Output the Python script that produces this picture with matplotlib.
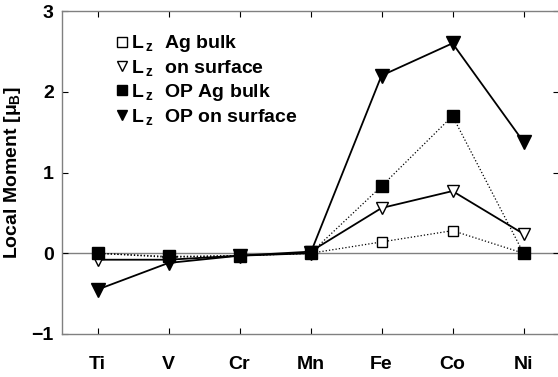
import matplotlib
matplotlib.use("Agg")
import matplotlib.pyplot as plt
from matplotlib.lines import Line2D

plt.rcParams['font.family'] = ['Liberation Sans', 'DejaVu Sans']
plt.rcParams['font.weight'] = 'bold'
plt.rcParams['mathtext.fontset'] = 'custom'
plt.rcParams['mathtext.rm'] = 'Liberation Sans:bold'
plt.rcParams['mathtext.it'] = 'Liberation Sans:bold'
plt.rcParams['mathtext.bf'] = 'Liberation Sans:bold'

elements = ["Ti", "V", "Cr", "Mn", "Fe", "Co", "Ni"]
lz_ag_bulk = [0.0, -0.05, -0.03, 0.0, 0.14, 0.28, 0.0]
lz_surface = [-0.08, -0.08, -0.03, 0.02, 0.56, 0.77, 0.24]
lz_op_ag_bulk = [0.0, -0.04, -0.03, 0.0, 0.83, 1.70, 0.0]
lz_op_surface = [-0.45, -0.12, -0.03, 0.0, 2.20, 2.60, 1.38]

x = list(range(1, len(elements) + 1))

fig = plt.figure(figsize=(5.58, 3.77), dpi=100)
ax = fig.add_axes([62 / 558, 1 - 334 / 377, 497 / 558, 323 / 377])

ax.axhline(0, color='#808080', lw=1.0, zorder=1)

ax.plot(x, lz_ag_bulk, ls=':', color='black', lw=0.9, marker='s', ms=7,
        mfc='white', mec='black', mew=1.0, zorder=3)
ax.plot(x, lz_surface, ls='-', color='black', lw=1.3, marker='v', ms=8,
        mfc='white', mec='black', mew=1.0, zorder=3)
ax.plot(x, lz_op_surface, ls='-', color='black', lw=1.3, marker='v', ms=9.5,
        mfc='black', mec='black', zorder=4)
ax.plot(x, lz_op_ag_bulk, ls=':', color='black', lw=0.9, marker='s', ms=8.5,
        mfc='black', mec='black', zorder=5)

ax.set_xlim(0.5, 7.5)
ax.set_ylim(-1, 3)
ax.set_xticks(x)
ax.set_xticklabels(elements)
ax.set_yticks([-1, 0, 1, 2, 3])
ax.tick_params(direction='in', top=True, right=True, length=4, width=0.8,
               color='black', labelsize=14)
ax.tick_params(axis='x', pad=16)
ax.tick_params(axis='y', pad=6)
for s in ax.spines.values():
    s.set_color('#808080')
    s.set_linewidth(1.0)

ax.set_ylabel(r"Local Moment [$\mu_{\mathrm{B}}$]", fontsize=14,
              fontweight='bold', labelpad=6)

handles = [
    Line2D([], [], ls='none', marker='s', ms=6.5, mfc='white', mec='black'),
    Line2D([], [], ls='none', marker='v', ms=6.5, mfc='white', mec='black'),
    Line2D([], [], ls='none', marker='s', ms=6.5, mfc='black', mec='black'),
    Line2D([], [], ls='none', marker='v', ms=6.5, mfc='black', mec='black'),
]
labels = [
    r"L$\,_{\mathrm{z}}$  Ag bulk",
    r"L$\,_{\mathrm{z}}$  on surface",
    r"L$\,_{\mathrm{z}}$  OP Ag bulk",
    r"L$\,_{\mathrm{z}}$  OP on surface",
]
ax.legend(handles, labels, loc='upper left', bbox_to_anchor=(0.095, 0.955),
          frameon=False, fontsize=14, handlelength=0.5, handletextpad=0.2,
          labelspacing=0.2, borderaxespad=0)

fig.savefig("out.png", dpi=100)
